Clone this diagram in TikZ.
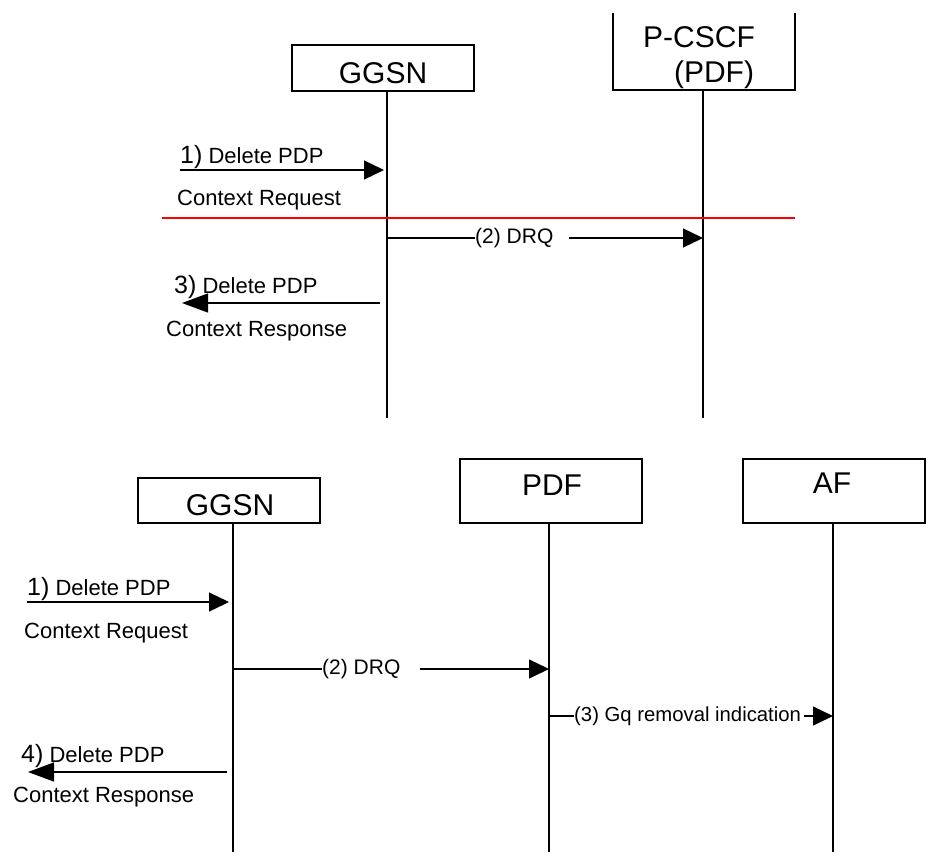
\documentclass[tikz,border=0pt]{standalone}
\usepackage{fontspec}
\setmainfont{Liberation Sans}
\usetikzlibrary{arrows.meta}
\tikzset{
  ent/.style={draw, line width=1.6pt, inner sep=0pt},
  life/.style={line width=1.3pt},
  msg/.style={line width=1.3pt, -{Triangle[length=20pt,width=19pt]}},
  msgl/.style={line width=1.3pt, -{Triangle[length=26pt,width=19pt]}},
  big/.style={font=\fontsize{30}{36}\selectfont, inner sep=0pt},
  lab/.style={font=\fontsize{22}{26}\selectfont, inner sep=0pt, anchor=base west},
  mlab/.style={font=\fontsize{21}{25}\selectfont, inner sep=0pt, fill=white, anchor=west},
}
\newcommand{\num}[1]{{\fontsize{25}{30}\selectfont #1}}
\newcommand{\gapx}[1]{\rule{#1}{0pt}}
\begin{document}
\begin{tikzpicture}[x=1pt,y=-1pt]
\useasboundingbox (0,0) rectangle (937,857);
% ---------- top diagram ----------
\node[ent, minimum width=182pt, minimum height=46pt] (g1box) at (383,68) {};
\node[big, anchor=base] (g1txt) at (383,83) {GGSN};
\draw[line width=1.6pt] (613,13) -- (613,90) -- (795,90) -- (795,13);
\node[big, anchor=base] (pctxt) at (699,47) {P-CSCF};
\node[big, anchor=base] (pctxt2) at (714,82) {(PDF)};
\coordinate (g1top) at (387,91);
\coordinate (g1bot) at (387,418);
\coordinate (p1top) at (703,90);
\coordinate (p1bot) at (703,418);
\draw[life] (g1top) -- (g1bot);
\draw[life] (p1top) -- (p1bot);
% msg 1
\coordinate (t1s) at (180,170);
\coordinate (t1e) at (384,170);
\draw[msg] (t1s) -- (t1e);
\node[lab] (t1a) at (180,163) {\num{1)} Delete PDP};
\node[lab] (t1b) at (177,205) {Context Request};
% red line
\coordinate (r1) at (162,218);
\coordinate (r2) at (795,218);
\draw[red, line width=1.5pt] (r1) -- (r2);
% msg 2
\coordinate (t2s) at (387,238);
\coordinate (t2e) at (703,238);
\draw[msg] (t2s) -- (t2e);
\node[mlab] (t2l) at (475,238) {(2) DRQ\gapx{16pt}};
% msg 3
\coordinate (t3s) at (380,303);
\coordinate (t3e) at (182,303);
\draw[msgl] (t3s) -- (t3e);
\node[lab] (t3a) at (174,293) {\num{3)} Delete PDP};
\node[lab] (t3b) at (166,336) {Context Response};
% ---------- bottom diagram ----------
\node[ent, minimum width=182pt, minimum height=45pt] (g2box) at (229,500.5) {};
\node[big, anchor=base] (g2txt) at (230,515) {GGSN};
\node[ent, minimum width=182pt, minimum height=64pt] (pdfbox) at (551,491) {};
\node[big, anchor=base] (pdftxt) at (552,495) {PDF};
\node[ent, minimum width=182pt, minimum height=64pt] (afbox) at (834,491) {};
\node[big, anchor=base] (aftxt) at (832,493) {AF};
\coordinate (g2top) at (233,523);
\coordinate (g2bot) at (233,852);
\coordinate (pdtop) at (549,523);
\coordinate (pdbot) at (549,852);
\coordinate (aftop) at (833,523);
\coordinate (afbot) at (833,852);
\draw[life] (g2top) -- (g2bot);
\draw[life] (pdtop) -- (pdbot);
\draw[life] (aftop) -- (afbot);
% msg 1
\coordinate (b1s) at (27,602);
\coordinate (b1e) at (229,602);
\draw[msg] (b1s) -- (b1e);
\node[lab] (b1a) at (27,595) {\num{1)} Delete PDP};
\node[lab] (b1b) at (24,638) {Context Request};
% msg 2
\coordinate (b2s) at (233,669);
\coordinate (b2e) at (549,669);
\draw[msg] (b2s) -- (b2e);
\node[mlab] (b2l) at (322,669) {(2) DRQ\gapx{20pt}};
% msg 3
\coordinate (b3s) at (549,716);
\coordinate (b3e) at (833,716);
\draw[msg] (b3s) -- (b3e);
\node[mlab, font=\fontsize{20.3}{24}\selectfont] (b3l) at (574,716) {(3) Gq removal indication\gapx{3pt}};
% msg 4
\coordinate (b4s) at (227,772);
\coordinate (b4e) at (28,772);
\draw[msgl] (b4s) -- (b4e);
\node[lab] (b4a) at (21,762) {\num{4)} Delete PDP};
\node[lab] (b4b) at (13,802) {Context Response};
\end{tikzpicture}
\end{document}
